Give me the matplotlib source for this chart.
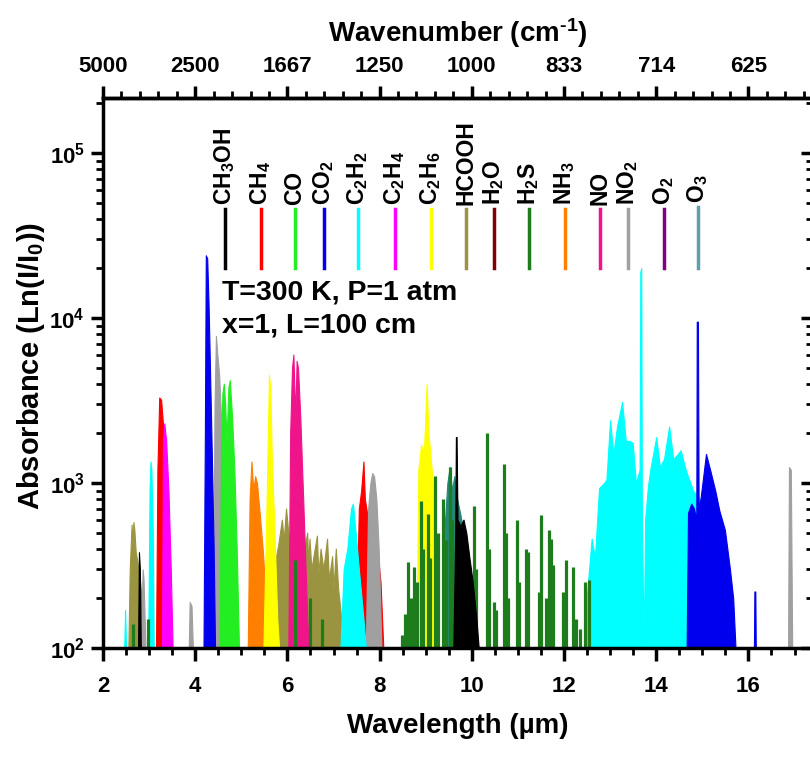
import matplotlib
matplotlib.use('Agg')
import matplotlib.pyplot as plt
from matplotlib.ticker import MultipleLocator, LogLocator, NullFormatter, FixedLocator
from matplotlib.lines import Line2D

plt.rcParams['font.family'] = ['Liberation Sans', 'DejaVu Sans']
plt.rcParams['font.weight'] = 'bold'
plt.rcParams['mathtext.fontset'] = 'custom'
plt.rcParams['mathtext.rm'] = 'Liberation Sans:bold'
plt.rcParams['mathtext.it'] = 'Liberation Sans:bold'
plt.rcParams['mathtext.bf'] = 'Liberation Sans:bold'
plt.rcParams['mathtext.default'] = 'rm'

# ---------------- data (wavelength in um, absorbance) ----------------
species = ['CH$_3$OH', 'CH$_4$', 'CO', 'CO$_2$', 'C$_2$H$_2$', 'C$_2$H$_4$', 'C$_2$H$_6$',
           'HCOOH', 'H$_2$O', 'H$_2$S', 'NH$_3$', 'NO', 'NO$_2$', 'O$_2$', 'O$_3$']

hcooh_x = [2.55, 2.58, 2.62, 2.64, 2.66, 2.68, 2.71, 2.75, 2.80, 2.85, 2.90,
           5.50, 5.60, 5.70, 5.80, 5.88, 5.92, 5.97, 6.02, 6.10, 6.20, 6.30, 6.38, 6.43,
           6.45, 6.48, 6.52, 6.58, 6.64, 6.67, 6.72, 6.78, 6.86, 6.90, 6.97, 7.00, 7.05,
           7.10, 7.15, 7.22]
hcooh_y = [100, 300, 560, 420, 580, 520, 380, 330, 260, 180, 100,
           100, 220, 300, 420, 600, 450, 700, 500, 380, 320, 280, 420, 500,
           320, 460, 300, 380, 480, 280, 400, 300, 460, 260, 360, 230, 400,
           230, 170, 100]

c2h4_x = [3.28, 3.30, 3.33, 3.37, 3.42, 3.47, 3.51]
c2h4_y = [100, 1800, 2300, 1800, 900, 300, 100]

no2_x = [2.82, 2.86, 2.88, 2.92, 3.86, 3.88, 3.92, 3.95,
         4.38, 4.42, 4.45, 4.48, 4.52, 4.56, 4.60, 4.66,
         7.70, 7.75, 7.80, 7.84, 7.88, 7.93, 7.98, 8.04,
         16.86, 16.88, 16.92, 16.95]
no2_y = [100, 300, 260, 100, 100, 190, 180, 100,
         100, 3000, 7800, 6000, 4500, 2500, 800, 100,
         100, 700, 1000, 1150, 1100, 800, 400, 100,
         100, 1250, 1200, 100]

nh3_x = [5.14, 5.18, 5.22, 5.26, 5.30, 5.34, 5.40, 5.47, 5.54, 5.60]
nh3_y = [100, 800, 1350, 900, 1100, 1000, 650, 380, 180, 100]

c2h6_x = [5.48, 5.55, 5.60, 5.63, 5.66, 5.72, 5.78, 5.82,
          8.80, 8.84, 8.90, 8.96, 9.02, 9.06, 9.12, 9.20, 9.28]
c2h6_y = [100, 800, 4500, 3800, 1500, 500, 150, 100,
          100, 1200, 1700, 1500, 4000, 2000, 1300, 700, 100]

c2h2_x = [2.46, 2.48, 2.50,
          2.98, 3.01, 3.03, 3.05, 3.08, 3.10,
          7.15, 7.22, 7.30, 7.38, 7.42, 7.48, 7.55, 7.65, 7.70,
          12.44, 12.46, 12.52, 12.60, 12.67, 12.76, 12.87, 12.92, 13.00, 13.07, 13.15,
          13.26, 13.34, 13.42, 13.49, 13.56, 13.64, 13.655, 13.675, 13.69, 13.73, 13.76,
          13.82, 13.87, 14.00, 14.08, 14.17, 14.28, 14.37, 14.47, 14.53, 14.64,
          14.80, 14.95, 15.02]
c2h2_y = [100, 170, 100,
          100, 900, 1350, 1200, 500, 100,
          100, 300, 400, 700, 750, 500, 300, 150, 100,
          100, 155, 250, 460, 350, 930, 1000, 1050, 2400, 1500, 2200,
          3100, 1800, 1800, 1750, 1000, 1200, 19000, 20000, 600, 100, 600,
          950, 1200, 1900, 1250, 1400, 2200, 1400, 1500, 1580, 1200,
          900, 800, 100]

ch4_x = [3.15, 3.18, 3.22, 3.26, 3.29, 3.33, 3.37, 3.42, 3.47,
         7.48, 7.55, 7.60, 7.65, 7.68, 7.75, 7.85, 7.95, 8.02, 8.08]
ch4_y = [100, 1200, 3300, 3200, 2500, 1700, 900, 300, 100,
         100, 700, 900, 1350, 800, 600, 500, 400, 250, 100]

co_x = [4.53, 4.56, 4.59, 4.62, 4.65, 4.68, 4.72, 4.75, 4.80, 4.85, 4.90, 4.95]
co_y = [100, 1500, 3500, 4000, 3000, 1800, 3800, 4200, 2500, 1200, 400, 100]

no_x = [6.02, 6.06, 6.10, 6.13, 6.17, 6.20, 6.23, 6.28, 6.33, 6.38, 6.43, 6.47]
no_y = [100, 2000, 5000, 6000, 2500, 5500, 5000, 2500, 1000, 400, 150, 100]

o3_x = [9.38, 9.42, 9.47, 9.52, 9.57, 9.62, 9.68, 9.75, 9.82, 9.90, 9.97, 10.05, 10.12]
o3_y = [100, 600, 1000, 1250, 900, 1100, 800, 650, 500, 400, 300, 200, 100]

h2s_x = [2.64, 2.98, 6.17, 6.50, 6.75,
         8.49, 8.55, 8.62, 8.68, 8.75, 8.82, 8.90, 8.95, 9.05, 9.10, 9.20, 9.26, 9.37,
         9.45, 9.53, 9.58, 10.05, 10.10, 10.33, 10.37, 10.48, 10.52, 10.70, 10.74,
         10.78, 10.98, 11.02, 11.18, 11.22, 11.45, 11.50, 11.60, 11.67, 11.71, 11.76,
         11.98, 12.04, 12.20, 12.25, 12.35, 12.45, 12.55]
h2s_y = [140, 150, 340, 200, 150,
         120, 160, 330, 200, 310, 250, 780, 400, 650, 350, 1100, 500, 800,
         450, 1250, 600, 730, 300, 2000, 400, 190, 170, 1300, 500,
         200, 600, 250, 400, 380, 220, 640, 200, 520, 460, 320,
         220, 340, 310, 150, 130, 250, 260]

ch3oh_x = [2.76, 2.78, 2.80, 2.82,
           9.60, 9.64, 9.655, 9.67, 9.69, 9.75, 9.82, 9.88, 9.95, 10.02, 10.10, 10.15]
ch3oh_y = [100, 380, 300, 100,
           100, 500, 1900, 1900, 600, 550, 600, 500, 350, 250, 150, 100]

co2_x = [4.18, 4.21, 4.23, 4.26, 4.29, 4.32, 4.36, 4.40, 4.43,
         14.66, 14.69, 14.76, 14.82, 14.87, 14.88, 14.905, 14.92, 14.96, 15.08, 15.17,
         15.28, 15.37, 15.49, 15.60, 15.67, 15.72,
         16.12, 16.13, 16.15, 16.16]
co2_y = [100, 2000, 24000, 23000, 12000, 5000, 1500, 400, 100,
         100, 660, 750, 700, 600, 9500, 9500, 700, 800, 1500, 1200,
         900, 680, 520, 300, 200, 100,
         100, 220, 220, 100]

colors = {'CH$_3$OH': '#000000', 'CH$_4$': '#ff0000', 'CO': '#22ee22', 'CO$_2$': '#0000ee',
          'C$_2$H$_2$': '#00ffff', 'C$_2$H$_4$': '#ff00ff', 'C$_2$H$_6$': '#ffff00',
          'HCOOH': '#9a9440', 'H$_2$O': '#800000', 'H$_2$S': '#1d7d1d', 'NH$_3$': '#ff8000',
          'NO': '#f0148a', 'NO$_2$': '#a0a0a0', 'O$_2$': '#800080', 'O$_3$': '#5f9eaa'}

# wavenumber axis
top_pos = [2, 4, 6, 8, 10, 12, 14, 16]
top_labels = ['5000', '2500', '1667', '1250', '1000', '833', '714', '625']

# ---------------- figure ----------------
W, H = 810, 758
fig = plt.figure(figsize=(W / 100, H / 100), dpi=100)
ax = fig.add_axes([103 / W, 1 - 648 / H, 709 / W, 550 / H])
ax.set_xlim(2, 2 + 709 / 46.1)
ax.set_yscale('log')
ax.set_ylim(100, 10 ** (2 + 550 / 165))


def band(x, y, c, z):
    # split the list into separate bands at consecutive baseline points
    start = 0
    for i in range(1, len(x)):
        if y[i] == 100 and (i == len(x) - 1 or y[i + 1] == 100):
            ax.fill_between(x[start:i + 1], 100, y[start:i + 1], color=c, lw=0.8, zorder=z)
            start = i + 1


band(hcooh_x, hcooh_y, colors['HCOOH'], 2)
band(ch4_x, ch4_y, colors['CH$_4$'], 4)
band(c2h4_x, c2h4_y, colors['C$_2$H$_4$'], 4.5)
band(no2_x, no2_y, colors['NO$_2$'], 5)
band(nh3_x, nh3_y, colors['NH$_3$'], 6)
band(c2h6_x, c2h6_y, colors['C$_2$H$_6$'], 7)
band(c2h2_x, c2h2_y, colors['C$_2$H$_2$'], 8)
band(co_x, co_y, colors['CO'], 9)
band(no_x, no_y, colors['NO'], 10)
band(o3_x, o3_y, '#23877a', 11)
ax.vlines(h2s_x, 100, h2s_y, color=colors['H$_2$S'], lw=2.3, zorder=12)
band(ch3oh_x, ch3oh_y, colors['CH$_3$OH'], 13)
band(co2_x, co2_y, colors['CO$_2$'], 14)

# ticks / spines
for s in ax.spines.values():
    s.set_linewidth(2.5)
    s.set_zorder(20)
ax.xaxis.set_major_locator(MultipleLocator(2))
ax.xaxis.set_minor_locator(MultipleLocator(0.5))
ax.yaxis.set_major_locator(LogLocator(base=10))
ax.yaxis.set_minor_locator(LogLocator(base=10, subs=range(2, 10)))
ax.yaxis.set_minor_formatter(NullFormatter())
ax.tick_params(which='major', direction='out', length=9, width=2.5, labelsize=16, pad=11)
ax.tick_params(which='minor', direction='out', length=5, width=2)
ax.tick_params(axis='y', which='major', pad=4)
ax.tick_params(right=False, top=False)

secx = ax.secondary_xaxis('top')
secx.xaxis.set_major_locator(FixedLocator(top_pos))
secx.set_xticklabels(top_labels)
secx.xaxis.set_minor_locator(MultipleLocator(0.4))
secx.tick_params(which='major', direction='out', length=9, width=2.5, labelsize=16, pad=6)
secx.tick_params(which='minor', direction='out', length=5, width=2)
secx.spines['top'].set_linewidth(2.5)
secx.set_xlabel('Wavenumber (cm$^{\u2010 1}$)', fontsize=20, fontweight='bold', labelpad=10)

secy = ax.secondary_yaxis('right')
secy.yaxis.set_major_locator(LogLocator(base=10))
secy.yaxis.set_minor_locator(LogLocator(base=10, subs=range(2, 10)))
secy.yaxis.set_major_formatter(NullFormatter())
secy.yaxis.set_minor_formatter(NullFormatter())
secy.tick_params(which='major', direction='in', length=8, width=2.5)
secy.tick_params(which='minor', direction='in', length=4, width=2)

ax.set_xlabel('Wavelength (\u00b5m)', fontsize=20, fontweight='bold', labelpad=12)
ax.set_ylabel('Absorbance (Ln(I/I$_0$))', fontsize=21, fontweight='bold')
ax.yaxis.set_label_coords((47 - 103) / 709, (648 - 366) / 550)

# annotation
fig.text(222 / W, 1 - 292 / H, 'T=300 K, P=1 atm', fontsize=20.5, fontweight='bold', va='center', ha='left')
fig.text(222 / W, 1 - 326 / H, 'x=1, L=100 cm', fontsize=20.5, fontweight='bold', va='center', ha='left')

# species key
key_px = [225, 261, 295, 324, 358, 395, 431, 466, 494, 529, 565, 600, 628, 664, 698]
for name, px in zip(species, key_px):
    top = 209 if name != 'O$_3$' else 207
    fig.add_artist(Line2D([px / W, px / W], [1 - top / H, 1 - 268 / H], color=colors[name], lw=2.5))
    fig.text(px / W, 1 - (top - 4) / H, name, rotation=90, fontsize=16.5, fontweight='bold',
             ha='center', va='bottom')

fig.savefig('out.png', dpi=100)
